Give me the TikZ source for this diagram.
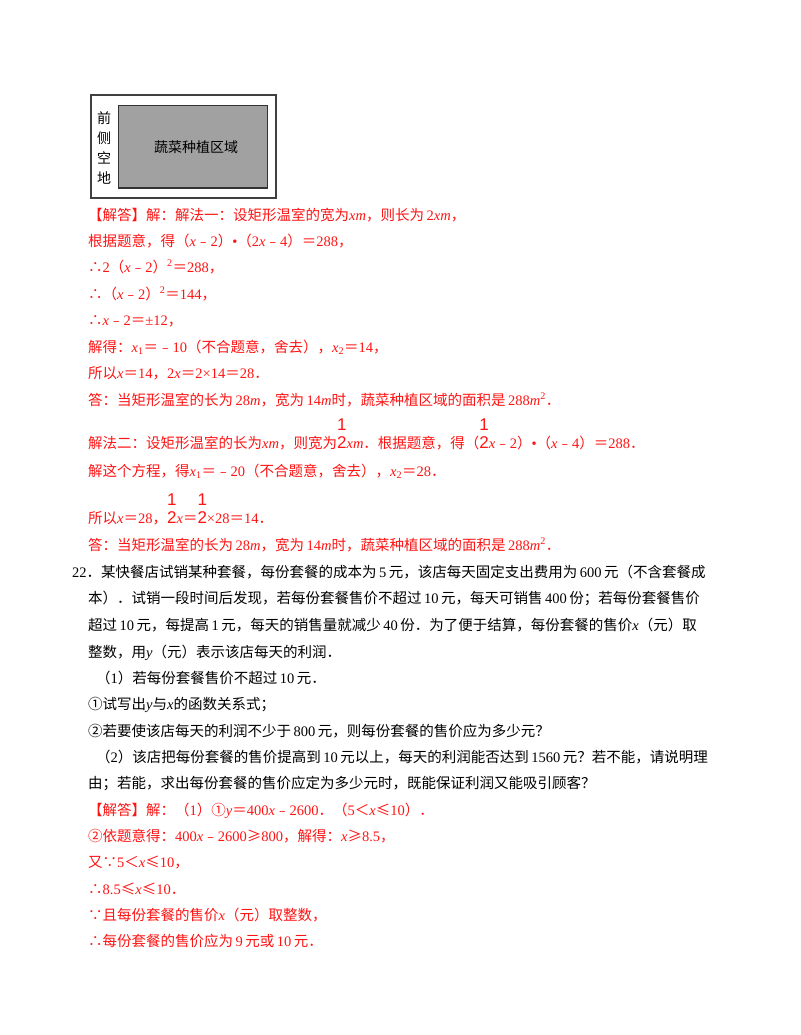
\documentclass[tikz,border=0pt]{standalone}
\usepackage{fontspec}
\setmainfont{Liberation Serif}
\newfontfamily\cjkf{Noto Sans CJK SC}
\newXeTeXintercharclass\cjkclass
\newXeTeXintercharclass\pclass
\newcommand\setcls[3]{\count255=#1\relax\loop\XeTeXcharclass\count255=#3\advance\count255 by 1\ifnum\count255<#2\repeat}
\setcls{"4E00}{"A000}{\cjkclass}
\setcls{"3000}{"3040}{\pclass}
\setcls{"FF00}{"FFF0}{\pclass}
\setcls{"FE30}{"FE70}{\pclass}
\setcls{"2460}{"2470}{\pclass}
\setcls{"2234}{"2236}{\pclass}
\setcls{"2264}{"2266}{\pclass}
\XeTeXinterchartoks 0 \cjkclass = {\hskip2.5pt\cjkf}
\XeTeXinterchartoks 4095 \cjkclass = {\cjkf}
\XeTeXinterchartoks \cjkclass 0 = {\rmfamily\hskip2.5pt}
\XeTeXinterchartoks 0 \pclass = {\cjkf}
\XeTeXinterchartoks 4095 \pclass = {\cjkf}
\XeTeXinterchartoks \pclass 0 = {\rmfamily}
\XeTeXinterchartokenstate=1
\newcommand\I[1]{{\rmfamily\itshape #1}}
\newcommand\X{{\rmfamily\itshape x}}
\newcommand\Sp[1]{{\rmfamily\textsuperscript{#1}}}
\newcommand\Sb[1]{{\rmfamily\textsubscript{#1}}}
\newcommand\hf{{\fontsize{17}{17}\selectfont\fontspec{Liberation Sans}\shortstack{1\\[3pt]2}}}
\definecolor{ansred}{RGB}{255,20,20}
\tikzset{txt/.style={anchor=base west,inner sep=0pt,font=\fontsize{14.5}{16}\selectfont},
 red/.style={txt,text=ansred}, blk/.style={txt,text=black}}
\newcommand\R[3]{\node[red] at (#1,-#2) {#3};}
\newcommand\B[3]{\node[blk] at (#1,-#2) {#3};}
\begin{document}
\begin{tikzpicture}[x=1pt,y=1pt]
\useasboundingbox[fill=white] (0,0) rectangle (800,-1035);
\draw[line width=1.2pt,black!75] (91,-95) rectangle (276,-198);
\draw[line width=1pt,black!80,fill=black!37] (118,-106) rectangle (267,-188);
\node[font=\cjkf\fontsize{14}{15}\selectfont,align=center,inner sep=0pt] (side) at (104,-148) {前\\[5pt]侧\\[5pt]空\\[5pt]地};
\node[font=\cjkf\fontsize{14}{15}\selectfont,inner sep=0pt] (veg) at (196,-147) {蔬菜种植区域};
\R{88}{220}{【解答】解：解法一：设矩形温室的宽为\I{xm}，则长为2\I{xm}，}
\R{88}{246}{根据题意，得（\X{}﹣2）•（2\X{}﹣4）＝288，}
\R{88}{272}{∴2（\X{}﹣2）\Sp{2}＝288，}
\R{88}{299}{∴（\X{}﹣2）\Sp{2}＝144，}
\R{88}{325}{∴\X{}﹣2＝±12，}
\R{88}{352}{解得：\X\Sb{1}＝﹣10（不合题意，舍去），\X\Sb{2}＝14，}
\R{88}{378}{所以\X{}＝14，2\X{}＝2×14＝28．}
\R{88}{405}{答：当矩形温室的长为28\I{m}，宽为14\I{m}时，蔬菜种植区域的面积是288\I{m}\Sp{2}．}
\R{88}{448}{解法二：设矩形温室的长为\I{xm}，则宽为\hf\I{xm}．根据题意，得（\hf\X{}﹣2）•（\X{}﹣4）＝288．}
\R{88}{476}{解这个方程，得\X\Sb{1}＝﹣20（不合题意，舍去），\X\Sb{2}＝28．}
\R{88}{523}{所以\X{}＝28，\hf\X{}＝\hf{\rmfamily ×28}＝14．}
\R{88}{550}{答：当矩形温室的长为28\I{m}，宽为14\I{m}时，蔬菜种植区域的面积是288\I{m}\Sp{2}．}
\B{72}{577}{22．某快餐店试销某种套餐，每份套餐的成本为5元，该店每天固定支出费用为600元（不含套餐成}
\B{88}{603}{本）．试销一段时间后发现，若每份套餐售价不超过10元，每天可销售400份；若每份套餐售价}
\B{88}{630}{超过10元，每提高1元，每天的销售量就减少40份．为了便于结算，每份套餐的售价\X{}（元）取}
\B{88}{657}{整数，用\I{y}（元）表示该店每天的利润．}
\B{96}{683}{（1）若每份套餐售价不超过10元．}
\B{88}{709}{①试写出\I{y}与\X{}的函数关系式；}
\B{88}{736}{②若要使该店每天的利润不少于800元，则每份套餐的售价应为多少元？}
\B{96}{762}{（2）该店把每份套餐的售价提高到10元以上，每天的利润能否达到1560元？若不能，请说明理}
\B{88}{788}{由；若能，求出每份套餐的售价应定为多少元时，既能保证利润又能吸引顾客？}
\R{88}{815}{【解答】解：（1）①\I{y}＝400\X{}﹣2600．（5＜\X{}≤10）．}
\R{88}{841}{②依题意得：400\X{}﹣2600≥800，解得：\X{}≥8.5，}
\R{88}{867}{又∵5＜\X{}≤10，}
\R{88}{894}{∴8.5≤\X{}≤10．}
\R{88}{920}{∵且每份套餐的售价\X{}（元）取整数，}
\R{88}{946}{∴每份套餐的售价应为9元或10元．}
\end{tikzpicture}
\end{document}
